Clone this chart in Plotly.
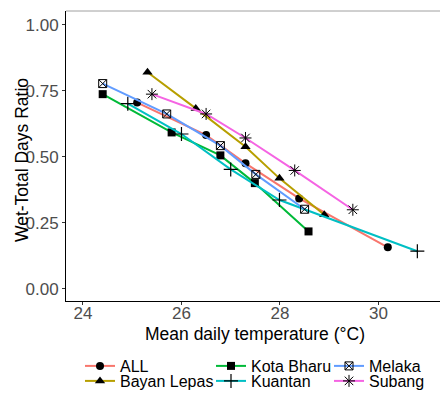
import plotly.graph_objects as go

# Data
all_x = [25.10, 26.50, 27.30, 28.39, 30.19]
all_y = [0.705, 0.582, 0.475, 0.342, 0.157]

bayan_x = [25.31, 26.29, 27.30, 27.99, 28.90]
bayan_y = [0.820, 0.683, 0.538, 0.418, 0.280]

kota_x = [24.40, 25.80, 26.79, 27.49, 28.58]
kota_y = [0.737, 0.592, 0.505, 0.400, 0.217]

kuantan_x = [24.91, 26.00, 27.00, 27.99, 30.79]
kuantan_y = [0.701, 0.586, 0.452, 0.336, 0.142]

melaka_x = [24.40, 25.70, 26.79, 27.51, 28.50]
melaka_y = [0.777, 0.662, 0.542, 0.433, 0.301]

subang_x = [25.40, 26.50, 27.30, 28.30, 29.48]
subang_y = [0.737, 0.662, 0.571, 0.448, 0.299]

y_ticks = [0.0, 0.25, 0.5, 0.75, 1.0]
y_tick_labels = ["0.00", "0.25", "0.50", "0.75", "1.00"]
x_ticks = [24, 26, 28, 30]
x_title = "Mean daily temperature (°C)"
y_title = "Wet-Total Days Ratio"

W, H = 441, 394
FONT = "Liberation Sans, Arial, sans-serif"

series = [
    ("ALL", all_x, all_y, "#F8766D", "circle", 8, 0, "legend", (100, 366)),
    ("Bayan Lepas", bayan_x, bayan_y, "#B79F00", "triangle-up", 9, 0, "legend2", (100, 381)),
    ("Kota Bharu", kota_x, kota_y, "#00BA38", "square", 8, 0, "legend3", (231, 366)),
    ("Kuantan", kuantan_x, kuantan_y, "#00BFC4", "cross-thin-open", 10, 1.2, "legend4", (231, 381)),
    ("Melaka", melaka_x, melaka_y, "#619CFF", "square-x-open", 8, 1, "legend5", (349, 366)),
    ("Subang", subang_x, subang_y, "#F564E3", "asterisk-open", 10, 1, "legend6", (349, 381)),
]

fig = go.Figure()
for name, xs, ys, col, sym, size, lw, leg, _ in series:
    fig.add_trace(go.Scatter(
        x=xs, y=ys, name=name, mode="lines+markers", legend=leg,
        line=dict(color=col, width=2),
        marker=dict(color="black", symbol=sym, size=size,
                    line=dict(color="black", width=lw)),
    ))

layout_legends = {}
for name, xs, ys, col, sym, size, lw, leg, (lx, ly) in series:
    layout_legends[leg] = dict(
        x=(lx - 20) / W, y=1 - ly / H, xref="container", yref="container",
        xanchor="left", yanchor="middle",
        font=dict(family=FONT, size=16, color="black"),
        bgcolor="rgba(0,0,0,0)", itemwidth=30, borderwidth=0,
    )

fig.update_layout(
    width=W, height=H,
    margin=dict(l=66, r=1, t=11, b=93, autoexpand=False),
    plot_bgcolor="white", paper_bgcolor="white",
    font=dict(family=FONT),
    showlegend=True,
    **layout_legends,
)
fig.update_xaxes(
    range=[23.655, 31.25], tickvals=x_ticks,
    showgrid=False, zeroline=False,
    showline=True, linecolor="black", linewidth=1,
    ticks="outside", ticklen=3, tickcolor="#333333",
    tickfont=dict(size=17, color="#4D4D4D"), ticklabelstandoff=-6,
)
fig.update_yaxes(
    range=[-0.0466, 1.052], tickvals=y_ticks, ticktext=y_tick_labels,
    showgrid=False, zeroline=False,
    showline=True, linecolor="black", linewidth=1,
    ticks="outside", ticklen=3, tickcolor="#333333",
    tickfont=dict(size=17, color="#4D4D4D"),
)
# axis titles
fig.add_annotation(text=x_title, xref="paper", yref="paper",
                   x=(255 - 66) / 374, y=(301 - 334) / 290,
                   xanchor="center", yanchor="middle", showarrow=False,
                   font=dict(family=FONT, size=17.5, color="black"))
fig.add_annotation(text=y_title, xref="paper", yref="paper",
                   x=(22 - 66) / 374, y=(301 - 160) / 290, textangle=-90,
                   xanchor="center", yanchor="middle", showarrow=False,
                   font=dict(family=FONT, size=17.5, color="black"))
fig.add_shape(type="line", xref="paper", yref="paper", x0=0, x1=1, y0=1, y1=1,
              line=dict(color="#A0A0A0", width=1))

fig.write_html("out.html", config={"displayModeBar": False},
               post_script="document.body.style.margin='0';document.body.style.padding='0';")
